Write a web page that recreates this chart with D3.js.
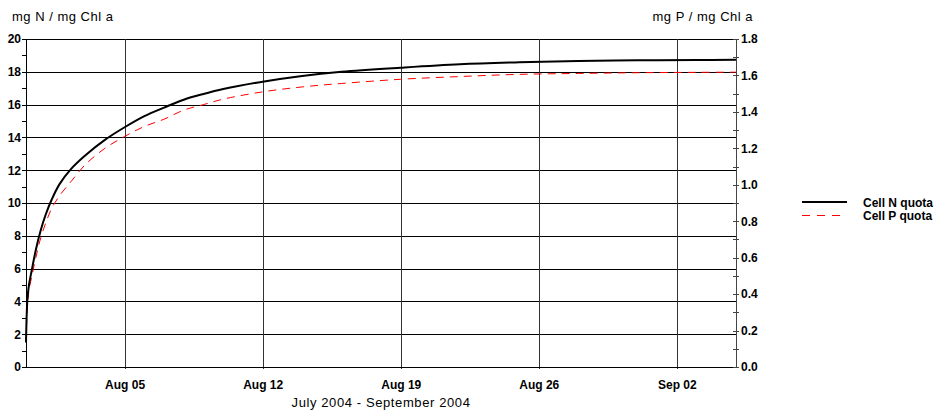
<!DOCTYPE html>
<html>
<head>
<meta charset="utf-8">
<script src="https://cdn.jsdelivr.net/npm/d3@7"></script>
<style>
body { margin: 0; background: #fff; }
text { font-family: Arial, "Liberation Sans", sans-serif; }
.tick text { font-weight: bold; font-size: 12px; fill: #000; }
</style>
</head>
<body>
<div id="chart"></div>
<script>
// days after Jul 31 2004
var days = [0, 0.07, 0.15, 0.3, 0.5, 0.75, 1, 1.3, 1.7, 2.3, 3, 4, 5, 6, 7, 8, 9, 10, 12, 14, 16, 19, 22, 25, 28, 31, 34, 36];
var cellN = [1.5, 4.1, 5.0, 5.95, 7.15, 8.35, 9.3, 10.2, 11.15, 12.1, 12.9, 13.85, 14.62, 15.3, 15.82, 16.3, 16.65, 16.95, 17.4, 17.75, 18.0, 18.25, 18.46, 18.58, 18.66, 18.7, 18.72, 18.73];
var cellP = [0.14, 0.33, 0.42, 0.5, 0.6, 0.71, 0.79, 0.87, 0.94, 1.02, 1.11, 1.2, 1.265, 1.32, 1.36, 1.41, 1.44, 1.47, 1.51, 1.537, 1.556, 1.579, 1.594, 1.606, 1.611, 1.615, 1.617, 1.618];
var seriesNames = ["Cell N quota", "Cell P quota"];
var xTickDates = ["2004-08-05", "2004-08-12", "2004-08-19", "2004-08-26", "2004-09-02"];
var leftTicks = d3.range(0, 21, 1);
var rightTicks = d3.range(0, 19, 1).map(function(d){ return d / 10; });

var W = 937, H = 417;
var pLeft = 26, pRight = 736, pTop = 39, pBottom = 367;
var start = new Date(2004, 6, 31), end = new Date(2004, 8, 5);

var toDate = function(d){ return new Date(start.getTime() + d * 86400000); };
var parse = d3.timeParse("%Y-%m-%d");

var x = d3.scaleTime().domain([start, end]).range([pLeft, pRight]);
var yL = d3.scaleLinear().domain([0, 20]).range([pBottom, pTop]);
var yR = d3.scaleLinear().domain([0, 1.8]).range([pBottom, pTop]);

var svg = d3.select("#chart").append("svg").attr("width", W).attr("height", H);
svg.append("rect").attr("width", W).attr("height", H).attr("fill", "#fff");

// grid
svg.append("g").selectAll("line")
	.data(d3.range(2, 21, 2))
	.enter().append("line")
	.attr("x1", pLeft).attr("x2", pRight)
	.attr("y1", function(d){ return Math.round(yL(d)) + 0.5; }).attr("y2", function(d){ return Math.round(yL(d)) + 0.5; })
	.attr("stroke", "#000").attr("stroke-width", 1);

var xAxis = d3.axisBottom(x)
	.tickValues(xTickDates.map(parse))
	.tickFormat(d3.timeFormat("%b %d"))
	.tickSize(2).tickPadding(11);
var gx = svg.append("g").attr("transform", "translate(0," + pBottom + ")").call(xAxis);
gx.select(".domain").remove();
gx.selectAll(".tick line").attr("y1", pTop - pBottom).attr("y2", 2).attr("stroke", "#333").attr("shape-rendering", "crispEdges");

svg.append("line").attr("x1", pLeft).attr("x2", pRight).attr("y1", pBottom + 0.5).attr("y2", pBottom + 0.5)
	.attr("stroke", "#000");

// left axis
var yAxisL = d3.axisLeft(yL).tickValues(leftTicks)
	.tickFormat(function(d){ return d % 2 == 0 ? d : ""; })
	.tickSize(4).tickPadding(1).tickSizeOuter(0);
var gl = svg.append("g").attr("transform", "translate(" + pLeft + ",0)").call(yAxisL);
gl.selectAll("path, line").attr("stroke", "#000").attr("shape-rendering", "crispEdges");

// right axis
var yAxisR = d3.axisRight(yR).tickValues(rightTicks)
	.tickFormat(function(d){ return Math.round(d * 10) % 2 == 0 ? d3.format(".1f")(d) : ""; })
	.tickSize(3).tickPadding(2).tickSizeOuter(0);
var gr = svg.append("g").attr("transform", "translate(" + pRight + ",0)").call(yAxisR);
gr.selectAll(".tick line").attr("x1", -3).attr("x2", 3);
gr.selectAll("path, line").attr("stroke", "#444").attr("shape-rendering", "crispEdges");

// lines
var nData = days.map(function(d, i){ return { date: toDate(d), v: cellN[i] }; });
var pData = days.map(function(d, i){ return { date: toDate(d), v: cellP[i] }; });

var lineN = d3.line().x(function(d){ return x(d.date); }).y(function(d){ return yL(d.v); }).curve(d3.curveCatmullRom.alpha(0.5));
var lineP = d3.line().x(function(d){ return x(d.date); }).y(function(d){ return yR(d.v); }).curve(d3.curveCatmullRom.alpha(0.5));

svg.append("path").attr("d", lineP(pData)).attr("fill", "none")
	.attr("stroke", "#ff0000").attr("stroke-width", 1).attr("stroke-dasharray", "8,6");
svg.append("path").attr("d", lineN(nData)).attr("fill", "none")
	.attr("stroke", "#000").attr("stroke-width", 2);

// titles
svg.append("text").attr("x", 12).attr("y", 21).attr("font-size", "13px").attr("letter-spacing", "0.5px").text("mg N / mg Chl a");
svg.append("text").attr("x", 753).attr("y", 21).attr("text-anchor", "end").attr("font-size", "13px").attr("letter-spacing", "0.5px").text("mg P / mg Chl a");
svg.append("text").attr("x", 381).attr("y", 407).attr("text-anchor", "middle").attr("font-size", "13px").attr("letter-spacing", "0.6px").text("July 2004 - September 2004");

// legend
var legend = svg.append("g").attr("transform", "translate(802,202)");
seriesNames.forEach(function(name, i){
	var g = legend.append("g").attr("transform", "translate(0," + (i * 13.5) + ")");
	g.append("line").attr("x1", 0).attr("x2", 45).attr("y1", 0).attr("y2", 0)
		.attr("stroke", i == 0 ? "#000" : "#ff0000")
		.attr("stroke-width", i == 0 ? 2 : 1)
		.attr("stroke-dasharray", i == 0 ? null : "8,7");
	g.append("text").attr("x", 61).attr("y", 4.5).attr("font-size", "12px").attr("font-weight", "bold").text(name);
});
</script>
</body>
</html>
